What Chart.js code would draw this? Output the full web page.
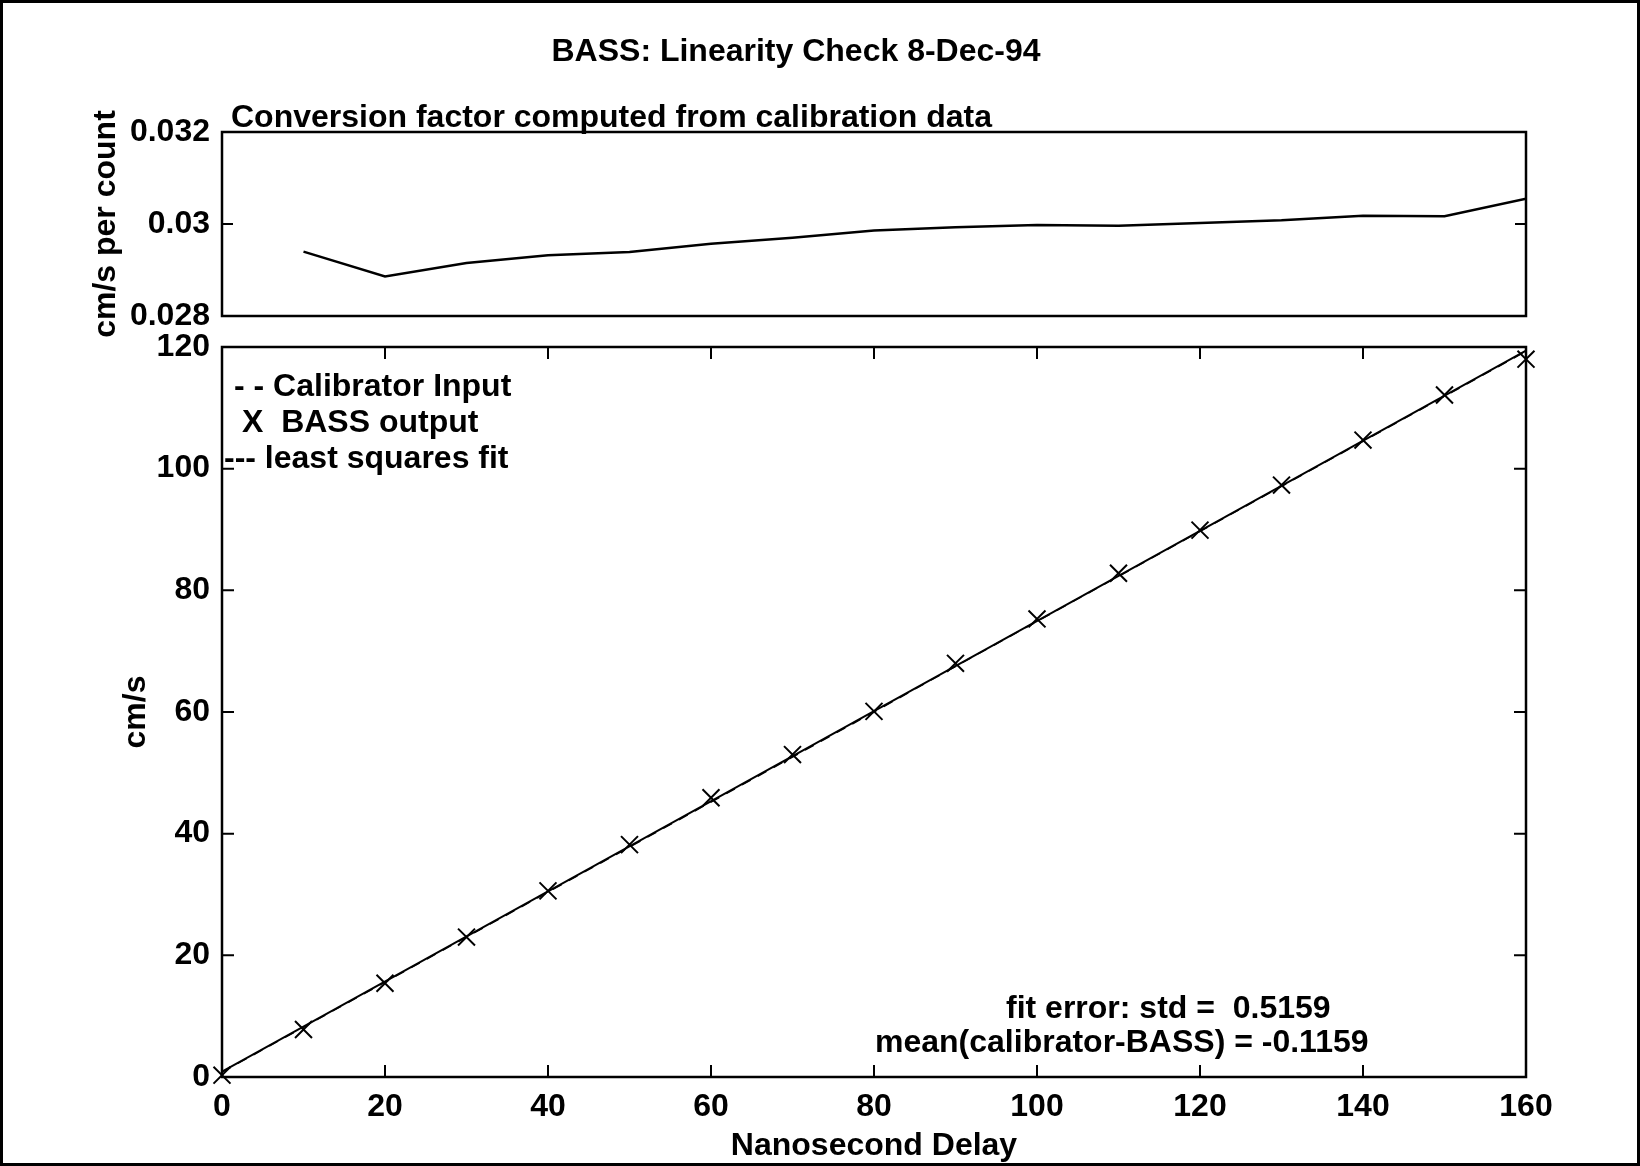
<!DOCTYPE html>
<html>
<head>
<meta charset="utf-8">
<script src="https://cdn.jsdelivr.net/npm/chart.js@4.4.1/dist/chart.umd.min.js"></script>
<style>
  html, body { margin: 0; padding: 0; background: #fff; }
  #page { position: relative; width: 1640px; height: 1166px; overflow: hidden; background: #fff; }
  #page canvas { position: absolute; left: 0; top: 0; }
  #frame { position: absolute; left: 0; top: 0; width: 1640px; height: 1166px; box-sizing: border-box; border: 3px solid #000; pointer-events: none; }
</style>
</head>
<body>
<div id="page">
  <canvas id="factor" width="1640" height="1166"></canvas>
  <canvas id="linearity" width="1640" height="1166"></canvas>
  <div id="frame"></div>
</div>
<script>
"use strict";

// delay settings (ns)
const delayNs = [0, 10, 20, 30, 40, 50, 60, 70, 80, 90, 100, 110, 120, 130, 140, 150, 160];
const factorDelayNs = [10, 20, 30, 40, 50, 60, 70, 80, 90, 100, 110, 120, 130, 140, 150, 160];

// conversion factor, cm/s per count
const conversionFactor = [0.02940, 0.02886, 0.02915, 0.02932, 0.02939, 0.02957, 0.02970, 0.02986,
                          0.02993, 0.02998, 0.02996, 0.03002, 0.03008, 0.03018, 0.03017, 0.03055];

// cm/s
const bassOutput = [0.3, 7.8, 15.4, 23.0, 30.6, 38.2, 45.9, 53.0, 60.1, 68.0, 75.3, 82.8, 89.9, 97.3, 104.7, 112.1, 118.0];
const calibratorInput = [0.8, 8.2, 15.6, 23.0, 30.4, 37.8, 45.2, 52.6, 60.0, 67.5, 74.9, 82.3, 89.7, 97.1, 104.5, 111.9, 119.3];
const fitDelayNs = [0, 160];
const fitValues = [0.9, 119.4];

// ticks
const factorTicks = [0.028, 0.03, 0.032];
const factorTickLabels = ['0.028', '0.03', '0.032'];
const speedTicks = [0, 20, 40, 60, 80, 100, 120];
const delayTicks = [0, 20, 40, 60, 80, 100, 120, 140, 160];

const FONT_FAMILY = '"Liberation Sans", Arial, Helvetica, sans-serif';
Chart.defaults.font.family = FONT_FAMILY;
Chart.defaults.font.size = 32;
Chart.defaults.font.weight = 'bold';
Chart.defaults.color = '#000';

function pts(xs, ys) {
    return xs.map((x, i) => ({ x: x, y: ys[i] }));
}

// box round the plot with inward tick marks, like the old plot
const frameTicks = {
    id: 'frameTicks',
    afterDatasetsDraw(chart, args, opts) {
        const ctx = chart.ctx;
        const a = chart.chartArea;
        ctx.save();
        ctx.strokeStyle = '#000';
        ctx.lineWidth = 2.5;
        ctx.strokeRect(a.left, a.top, a.right - a.left, a.bottom - a.top);
        ctx.lineWidth = 2;
        ctx.beginPath();
        (opts.xMarks || []).forEach(v => {
            const px = chart.scales.x.getPixelForValue(v);
            ctx.moveTo(px, a.bottom); ctx.lineTo(px, a.bottom - opts.len);
            ctx.moveTo(px, a.top); ctx.lineTo(px, a.top + opts.len);
        });
        (opts.yMarks || []).forEach(v => {
            const py = chart.scales.y.getPixelForValue(v);
            ctx.moveTo(a.left, py); ctx.lineTo(a.left + opts.len, py);
            ctx.moveTo(a.right, py); ctx.lineTo(a.right - opts.len, py);
        });
        ctx.stroke();
        ctx.restore();
    }
};

const textNotes = {
    id: 'textNotes',
    afterDraw(chart, args, opts) {
        const ctx = chart.ctx;
        ctx.save();
        ctx.fillStyle = '#000';
        ctx.font = 'bold 32px ' + FONT_FAMILY;
        ctx.textBaseline = 'alphabetic';
        (opts.items || []).forEach(t => {
            ctx.textAlign = t.align || 'left';
            ctx.fillText(t.text, t.x, t.y);
        });
        ctx.restore();
    }
};

// top panel
new Chart(document.getElementById('factor'), {
    type: 'line',
    data: {
        datasets: [{
            data: pts(factorDelayNs, conversionFactor),
            borderColor: '#000',
            borderWidth: 2.5,
            pointRadius: 0,
            tension: 0
        }]
    },
    options: {
        responsive: false,
        animation: false,
        layout: { padding: { left: 87, right: 114, top: 132, bottom: 850 } },
        plugins: {
            legend: { display: false },
            tooltip: { enabled: false },
            frameTicks: { yMarks: [0.03], len: 11 },
            textNotes: {
                items: [
                    { text: 'BASS: Linearity Check 8-Dec-94', x: 796, y: 61, align: 'center' },
                    { text: 'Conversion factor computed from calibration data', x: 231, y: 127 }
                ]
            }
        },
        scales: {
            x: { type: 'linear', display: false, min: 0, max: 160 },
            y: {
                type: 'linear',
                min: 0.028,
                max: 0.032,
                afterBuildTicks: s => { s.ticks = factorTicks.map(v => ({ value: v })); },
                afterFit: s => { s.width = 135; },
                ticks: { padding: 12, callback: (v, i) => factorTickLabels[i] },
                grid: { display: false, drawTicks: false },
                border: { display: false },
                title: { display: true, text: 'cm/s per count', padding: 0 }
            }
        }
    },
    plugins: [frameTicks, textNotes]
});

// bottom panel
new Chart(document.getElementById('linearity'), {
    type: 'line',
    data: {
        datasets: [
            {
                label: 'BASS output',
                data: pts(delayNs, bassOutput),
                showLine: false,
                pointStyle: 'crossRot',
                pointRadius: 12,
                pointBorderColor: '#000',
                pointBorderWidth: 2,
                clip: false,
                order: 0
            },
            {
                label: 'least squares fit',
                data: pts(fitDelayNs, fitValues),
                borderColor: '#000',
                borderWidth: 2,
                pointRadius: 0,
                order: 1
            },
            {
                label: 'Calibrator Input',
                data: pts(delayNs, calibratorInput),
                borderColor: '#000',
                borderWidth: 1.5,
                borderDash: [10, 8],
                pointRadius: 0,
                order: 2
            }
        ]
    },
    options: {
        responsive: false,
        animation: false,
        layout: { padding: { left: 117, right: 114, top: 347, bottom: 0 } },
        plugins: {
            legend: { display: false },
            tooltip: { enabled: false },
            frameTicks: { xMarks: [20, 40, 60, 80, 100, 120, 140], yMarks: [20, 40, 60, 80, 100], len: 12 },
            textNotes: {
                items: [
                    { text: '- - Calibrator Input', x: 234, y: 396 },
                    { text: 'X  BASS output', x: 242, y: 432 },
                    { text: '--- least squares fit', x: 224, y: 468 },
                    { text: 'fit error: std =  0.5159', x: 1006, y: 1018 },
                    { text: 'mean(calibrator-BASS) = -0.1159', x: 875, y: 1052 }
                ]
            }
        },
        scales: {
            x: {
                type: 'linear',
                min: 0,
                max: 160,
                afterBuildTicks: s => { s.ticks = delayTicks.map(v => ({ value: v })); },
                afterFit: s => { s.height = 89; },
                ticks: { padding: 11 },
                grid: { display: false, drawTicks: false },
                border: { display: false },
                title: { display: true, text: 'Nanosecond Delay', padding: { top: 0, bottom: 1 } }
            },
            y: {
                type: 'linear',
                min: 0,
                max: 120,
                afterBuildTicks: s => { s.ticks = speedTicks.map(v => ({ value: v })); },
                afterFit: s => { s.width = 105; },
                ticks: { padding: 12 },
                grid: { display: false, drawTicks: false },
                border: { display: false },
                title: { display: true, text: 'cm/s', padding: 0 }
            }
        }
    },
    plugins: [frameTicks, textNotes]
});
</script>
</body>
</html>
